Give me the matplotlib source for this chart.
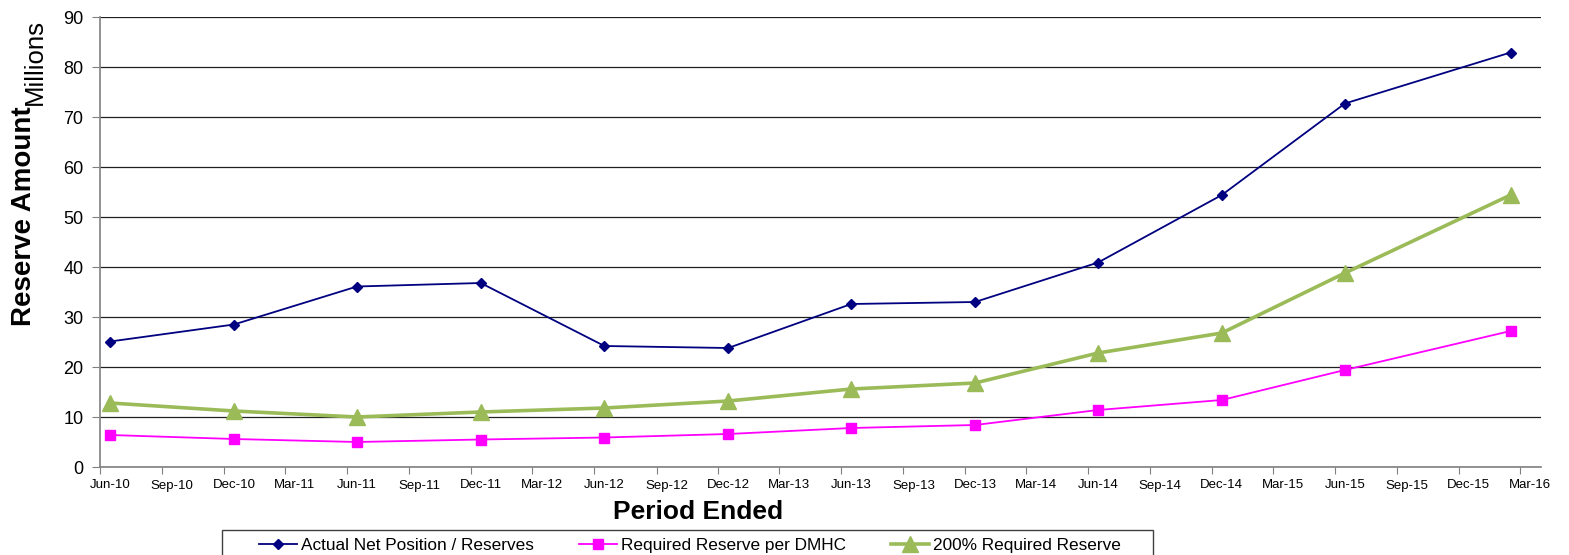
import numpy as np
import pandas as pd
import matplotlib
matplotlib.use("Agg")
import matplotlib.pyplot as plt
import matplotlib.dates as mdates
from matplotlib.patches import Rectangle

plt.rcParams['font.family'] = ['Liberation Sans', 'DejaVu Sans']

# period ended (month-year) and reserve amounts in millions
periods = ['Jun-10', 'Dec-10', 'Jun-11', 'Dec-11', 'Jun-12', 'Dec-12',
           'Jun-13', 'Dec-13', 'Jun-14', 'Dec-14', 'Jun-15', 'Feb-16']
actual_net = [25.1, 28.5, 36.1, 36.8, 24.2, 23.8, 32.6, 33.0, 40.9, 54.4, 72.7, 82.9]
required_dmhc = [6.4, 5.6, 5.0, 5.5, 5.9, 6.6, 7.8, 8.4, 11.4, 13.4, 19.4, 27.2]
required_200 = [12.8, 11.2, 10.0, 11.0, 11.8, 13.2, 15.6, 16.8, 22.8, 26.8, 38.8, 54.4]

# points sit in the middle of their month
dates = pd.to_datetime(periods, format='%b-%y') + pd.Timedelta(days=15)

fig = plt.figure(figsize=(15.69, 5.55), dpi=100)
ax = fig.add_axes([100/1569, 88/555, 1441/1569, 450/555])

ax.plot(dates, actual_net, color='#000080', lw=1.3, marker='D', ms=5.5,
        label='Actual Net Position / Reserves')
ax.plot(dates, required_dmhc, color='#FF00FF', lw=1.3, marker='s', ms=7,
        label='Required Reserve per DMHC')
ax.plot(dates, required_200, color='#9BBB59', lw=2.6, marker='^', ms=11,
        label='200% Required Reserve')

ax.set_ylim(0, 90)
ax.set_yticks(np.arange(0, 91, 10))
ax.set_xlim(pd.Timestamp('2010-06-01'), pd.Timestamp('2016-04-01'))
# tick marks on month boundaries, labels centred in the month
ax.xaxis.set_major_locator(mdates.MonthLocator(bymonth=(3, 6, 9, 12)))
ax.xaxis.set_major_formatter(plt.NullFormatter())
ax.xaxis.set_minor_locator(mdates.MonthLocator(bymonth=(3, 6, 9, 12), bymonthday=16))
ax.xaxis.set_minor_formatter(mdates.DateFormatter('%b-%y'))

ax.grid(axis='y', color='#202020', lw=0.9)
ax.set_axisbelow(True)
for s in ['top', 'right']:
    ax.spines[s].set_visible(False)
for s in ['left', 'bottom']:
    ax.spines[s].set_color('#808080')
    ax.spines[s].set_linewidth(1.2)
ax.tick_params(axis='y', labelsize=13, length=6, color='#808080', pad=6)
ax.tick_params(axis='x', which='major', length=5, color='#808080')
ax.tick_params(axis='x', which='minor', length=0, labelsize=9.5, pad=9)

fig.text(698/1569, 1 - 512/555, 'Period Ended', fontsize=19,
         fontweight='bold', ha='center', va='center')
fig.text(24/1569, 1 - 216/555, 'Reserve Amount', rotation=90, fontsize=20,
         fontweight='bold', ha='center', va='center')
fig.text(35/1569, 1 - 62/555, 'Millions', rotation=90, fontsize=18.5,
         ha='center', va='center')

# legend box runs off the bottom edge
fig.patches.append(Rectangle((222/1569, -0.1), 931/1569, 25/555 + 0.1,
                             transform=fig.transFigure, fill=False,
                             edgecolor='#404040', lw=1.0))
fig.legend(loc='center', bbox_to_anchor=(690/1569, 10/555), ncol=3,
           fontsize=12.4, frameon=False, handlelength=2.2,
           handletextpad=0.25, columnspacing=2.6, borderaxespad=0)

fig.savefig('out.png', dpi=100)
